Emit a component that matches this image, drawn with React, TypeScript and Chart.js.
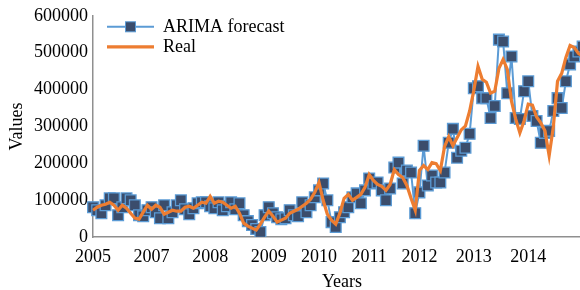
import React, { useEffect, useRef } from "react";
import { Chart, registerables } from "chart.js";

Chart.register(...registerables);

const yearLabels: string[] = ["2005", "2007", "2008", "2009", "2010", "2011", "2012", "2013", "2014"];
const yearLabelIndex: number[] = [0, 14, 28, 42, 54, 66, 78, 91, 104];
const pointCount = 120;

const arimaForecast: number[] = [
  80700, 72600, 64600, 86100, 104900, 104900, 59200, 80700, 104900, 99600,
  86100, 59200, 56500, 72600, 80700, 67300, 51100, 86100, 51100, 67300,
  86100, 99600, 75300, 61900, 78000, 91500, 94200, 94200, 83400, 78000,
  94200, 72600, 83400, 94200, 75300, 91500, 59200, 43000, 32300, 21500,
  13500, 59200, 80700, 64600, 53800, 48400, 51100, 72600, 59200, 56500,
  94200, 67300, 86100, 107600, 126500, 145300, 99600, 40400, 26900, 53800,
  67300, 80700, 107600, 118400, 91500, 126500, 158700, 145300, 148000, 126500,
  99600, 131800, 188300, 201800, 145300, 180300, 174900, 64600, 121100, 247500,
  139900, 166800, 148000, 148000, 174900, 255600, 293300, 215200, 234100, 242200,
  279800, 403600, 409000, 376700, 376700, 322900, 355200, 535400, 530100, 390100,
  489700, 322900, 320200, 395500, 422400, 328300, 314800, 255600, 282500, 287900,
  341700, 376700, 349800, 422400, 468200, 489700, 503100, 516600, 508500, 516600,
];

const realValues: number[] = [
  72600, 80700, 86100, 88800, 94200, 86100, 72600, 86100, 78000, 64600,
  51100, 48400, 67300, 86100, 75300, 86100, 80700, 61900, 67300, 72600,
  70000, 70000, 80700, 83400, 78000, 86100, 94200, 91500, 110300, 91500,
  96900, 94200, 86100, 78000, 83400, 64600, 37700, 29600, 24200, 18800,
  35000, 53800, 70000, 56500, 40400, 45700, 51100, 64600, 70000, 75300,
  83400, 91500, 102200, 121100, 148000, 99600, 61900, 45700, 35000, 64600,
  104900, 115700, 99600, 107600, 115700, 134500, 169500, 153400, 142600, 137200,
  126500, 142600, 183000, 169500, 161400, 139900, 104900, 72600, 180300, 193700,
  183000, 201800, 199100, 180300, 244800, 271800, 247500, 269100, 290600, 301300,
  341700, 398200, 462800, 427800, 419700, 390100, 395500, 457400, 481600, 454700,
  368600, 320200, 282500, 314800, 360500, 357800, 325600, 309400, 287900, 220600,
  298700, 422400, 444000, 487000, 519300, 513900, 497800, 489700, 503100, 497800,
];

const seriesNames: string[] = ["ARIMA forecast", "Real"];
const axisTitles = { x: "Years", y: "Values" };

const FONT = "'Liberation Serif', 'Times New Roman', serif";

const insideLegend = {
  id: "insideLegend",
  afterDraw(chart: any) {
    const { ctx, chartArea } = chart;
    const x0 = chartArea.left + 14;
    const x1 = x0 + 47;
    chart.data.datasets.forEach((ds: any, i: number) => {
      const y = chartArea.top + 11 + i * 20;
      ctx.save();
      ctx.strokeStyle = ds.borderColor;
      ctx.lineWidth = ds.borderWidth;
      ctx.beginPath();
      ctx.moveTo(x0, y);
      ctx.lineTo(x1, y);
      ctx.stroke();
      if (ds.pointRadius > 0) {
        const s = 10;
        const cx = (x0 + x1) / 2;
        ctx.fillStyle = ds.pointBackgroundColor;
        ctx.fillRect(cx - s / 2, y - s / 2, s, s);
        ctx.strokeStyle = ds.pointBorderColor;
        ctx.lineWidth = 1;
        ctx.strokeRect(cx - s / 2, y - s / 2, s, s);
      }
      ctx.fillStyle = "#000";
      ctx.font = `18px ${FONT}`;
      ctx.textBaseline = "middle";
      ctx.textAlign = "left";
      ctx.fillText(ds.label, x1 + 9, y);
      ctx.restore();
    });
  },
};

export default function App() {
  const canvasRef = useRef<HTMLCanvasElement | null>(null);

  useEffect(() => {
    const canvas = canvasRef.current;
    if (!canvas) return;
    const labels: string[] = Array.from({ length: pointCount }, () => "");
    yearLabelIndex.forEach((idx, k) => {
      labels[idx] = yearLabels[k];
    });

    const chart = new Chart(canvas, {
      type: "line",
      data: {
        labels,
        datasets: [
          {
            label: seriesNames[0],
            data: arimaForecast,
            borderColor: "#5B9BD5",
            borderWidth: 2,
            pointStyle: "rect",
            pointRadius: 7.6,
            pointBackgroundColor: "#3B4D6C",
            pointBorderColor: "#5B9BD5",
            pointBorderWidth: 1.3,
            tension: 0,
            order: 1,
          },
          {
            label: seriesNames[1],
            data: realValues,
            borderColor: "#ED7D31",
            borderWidth: 3.2,
            pointRadius: 0,
            tension: 0,
            order: 0,
          },
        ],
      },
      options: {
        responsive: false,
        animation: false,
        devicePixelRatio: 1,
        layout: { padding: { top: 14, right: 5, left: 0, bottom: 0 } },
        plugins: {
          legend: { display: false },
          tooltip: { enabled: false },
        },
        scales: {
          x: {
            type: "category",
            grid: { display: false, drawTicks: false },
            border: { display: true, color: "#8f8f8f", width: 1.5 },
            ticks: {
              autoSkip: false,
              maxRotation: 0,
              minRotation: 0,
              padding: 9,
              color: "#000",
              font: { family: FONT, size: 18 },
            },
            title: {
              display: true,
              text: axisTitles.x,
              color: "#000",
              font: { family: FONT, size: 18 },
              padding: { top: 0, bottom: 7 },
            },
            afterFit(scale: any) {
              scale.height = 63;
            },
          },
          y: {
            min: 0,
            max: 600000,
            grid: { display: false, drawTicks: false },
            border: { display: true, color: "#8f8f8f", width: 1.5 },
            ticks: {
              stepSize: 100000,
              padding: 5,
              color: "#000",
              font: { family: FONT, size: 18 },
              callback: (v: any) => String(v),
            },
            title: {
              display: true,
              text: axisTitles.y,
              color: "#000",
              font: { family: FONT, size: 18 },
              padding: { top: 6, bottom: 0 },
            },
            afterFit(scale: any) {
              scale.width = 93;
            },
          },
        },
      },
      plugins: [insideLegend],
    });
    return () => chart.destroy();
  }, []);

  return (
    <div
      style={{
        position: "absolute",
        left: 0,
        top: 0,
        width: 580,
        height: 290,
        overflow: "hidden",
        background: "#fff",
      }}
    >
      <canvas ref={canvasRef} width={600} height={300} style={{ width: 600, height: 300 }} />
    </div>
  );
}
